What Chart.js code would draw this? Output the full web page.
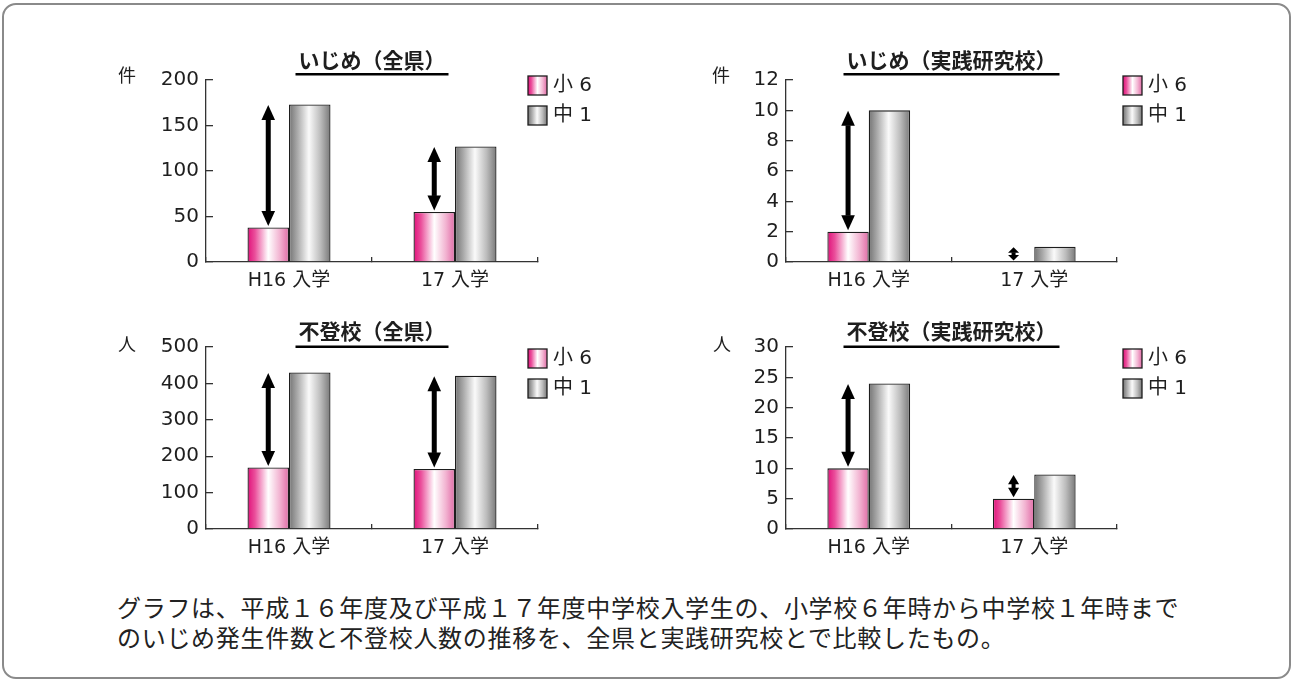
<!DOCTYPE html>
<html lang="ja">
<head>
<meta charset="utf-8">
<title>いじめ・不登校の推移</title>
<script src="https://cdn.jsdelivr.net/npm/chart.js@4.4.1/dist/chart.umd.min.js"></script>
<style>
  html, body { margin: 0; padding: 0; background: #fff; }
  #page { position: relative; width: 1293px; height: 681px; overflow: hidden; background: #fff; }
  #frame { position: absolute; left: 2px; top: 3px; width: 1289px; height: 676px; box-sizing: border-box;
           border: 2.5px solid #8a8a8a; border-radius: 14px; }
  .panel { position: absolute; width: 560px; height: 270px; }
  #caption { position: absolute; left: 117px; top: 592px; color: #222; white-space: nowrap;
             font: 24px 'Noto Sans CJK JP', sans-serif; letter-spacing: 0.7px; line-height: 29.5px; }
</style>
</head>
<body>
<div id="page">
  <div id="frame"></div>
  <canvas id="c0" class="panel" width="560" height="270" style="left:90px;top:30px"></canvas>
  <canvas id="c1" class="panel" width="560" height="270" style="left:670px;top:30px"></canvas>
  <canvas id="c2" class="panel" width="560" height="270" style="left:90px;top:297px"></canvas>
  <canvas id="c3" class="panel" width="560" height="270" style="left:670px;top:297px"></canvas>
  <div id="caption">グラフは、平成１６年度及び平成１７年度中学校入学生の、小学校６年時から中学校１年時まで<br>のいじめ発生件数と不登校人数の推移を、全県と実践研究校とで比較したもの。</div>
</div>
<script>
// ---- data ----
const categories = ['H16 入学', '17 入学'];
const seriesLabels = ['小 6', '中 1'];

const bullyingPrefElem     = [38, 55];
const bullyingPrefJunior   = [173, 127];
const bullyingSchoolElem   = [2, 0];
const bullyingSchoolJunior = [10, 1];
const absencePrefElem      = [169, 165];
const absencePrefJunior    = [430, 421];
const absenceSchoolElem    = [10, 5];
const absenceSchoolJunior  = [24, 9];

const panelTitles = ['いじめ（全県）', 'いじめ（実践研究校）', '不登校（全県）', '不登校（実践研究校）'];
const unitLabels  = ['件', '件', '人', '人'];
const axisMax     = [200, 12, 500, 30];
const axisStep    = [50, 2, 100, 5];

// ---- styling helpers ----
const TICK_FONT = "'DejaVu Sans', 'Noto Sans CJK JP', sans-serif";
const TITLE_FONT = "'Noto Sans CJK JP', sans-serif";
const INK = '#1e1e1e';

function pinkFill(ctx, x0, x1) {
  const g = ctx.createLinearGradient(x0, 0, x1, 0);
  g.addColorStop(0, '#e0107a');
  g.addColorStop(0.18, '#ea4f9b');
  g.addColorStop(0.5, '#ffffff');
  g.addColorStop(0.78, '#f2b3d1');
  g.addColorStop(1, '#e06ba6');
  return g;
}
function grayFill(ctx, x0, x1) {
  const g = ctx.createLinearGradient(x0, 0, x1, 0);
  g.addColorStop(0, '#737373');
  g.addColorStop(0.2, '#a9a9a9');
  g.addColorStop(0.48, '#fafafa');
  g.addColorStop(0.76, '#bcbcbc');
  g.addColorStop(1, '#787878');
  return g;
}
const FILLS = [pinkFill, grayFill];

function drawArrow(ctx, x, yBottom, yTop) {
  const span = yBottom - yTop;
  if (span <= 0) return;
  const head = Math.min(15, span * 0.42);
  const half = span < 30 ? 5.5 : 6.8;
  const shaft = span < 30 ? 4 : 5;
  ctx.save();
  ctx.fillStyle = '#000';
  ctx.fillRect(x - shaft / 2, yTop + head - 0.5, shaft, Math.max(0, span - 2 * head + 1));
  ctx.beginPath();
  ctx.moveTo(x, yTop); ctx.lineTo(x + half, yTop + head); ctx.lineTo(x - half, yTop + head);
  ctx.closePath(); ctx.fill();
  ctx.beginPath();
  ctx.moveTo(x, yBottom); ctx.lineTo(x + half, yBottom - head); ctx.lineTo(x - half, yBottom - head);
  ctx.closePath(); ctx.fill();
  ctx.restore();
}

// Gradient bar fills, difference arrows, titles, unit labels and legend
const panelDecor = {
  id: 'panelDecor',
  beforeDatasetsDraw(chart) {
    chart.data.datasets.forEach((ds, i) => {
      chart.getDatasetMeta(i).data.forEach(el => {
        const w = el.width;
        el.options.backgroundColor = FILLS[i](chart.ctx, el.x - w / 2, el.x + w / 2);
      });
    });
  },
  afterDatasetsDraw(chart) {
    const lower = chart.getDatasetMeta(0).data;
    const upper = chart.getDatasetMeta(1).data;
    lower.forEach((el, k) => {
      drawArrow(chart.ctx, el.x, el.y - 1.5, upper[k].y + 0.5);
    });
  },
  afterDraw(chart, args, o) {
    const ctx = chart.ctx;
    const area = chart.chartArea;
    ctx.save();
    // title with rule underneath
    ctx.font = 'bold 21px ' + TITLE_FONT;
    ctx.fillStyle = INK;
    ctx.textAlign = 'center';
    ctx.textBaseline = 'middle';
    const cx = (area.left + area.right) / 2;
    ctx.fillText(o.title, cx, o.titleY);
    const tw = ctx.measureText(o.title).width;
    ctx.strokeStyle = '#000';
    ctx.lineWidth = 2.5;
    ctx.beginPath();
    ctx.moveTo(cx - tw / 2 - 3, o.ruleY);
    ctx.lineTo(cx + tw / 2 + 3, o.ruleY);
    ctx.stroke();
    // unit label
    ctx.font = '18px ' + TITLE_FONT;
    ctx.fillText(o.unit, o.unitX, o.unitY);
    // legend
    chart.data.datasets.forEach((ds, i) => {
      const y = o.legendY + i * 30;
      ctx.fillStyle = FILLS[i](ctx, o.legendX, o.legendX + 19);
      ctx.fillRect(o.legendX, y, 19, 19);
      ctx.strokeStyle = INK;
      ctx.lineWidth = 1.3;
      ctx.strokeRect(o.legendX, y, 19, 19);
      ctx.fillStyle = INK;
      ctx.font = '20px ' + TICK_FONT;
      ctx.textAlign = 'left';
      ctx.fillText(ds.label, o.legendX + 25, y + 10);
    });
    ctx.restore();
  }
};

const panels = [
  { canvas: 'c0', elem: bullyingPrefElem,   junior: bullyingPrefJunior,   k: 0, padRight: 112,
    titleY: 30, ruleY: 44.3, unitX: 37, unitY: 45, legendX: 438, legendY: 46 },
  { canvas: 'c1', elem: bullyingSchoolElem, junior: bullyingSchoolJunior, k: 1, padRight: 113,
    titleY: 30, ruleY: 44.3, unitX: 51, unitY: 45, legendX: 453, legendY: 46 },
  { canvas: 'c2', elem: absencePrefElem,    junior: absencePrefJunior,    k: 2, padRight: 112,
    titleY: 34, ruleY: 49.7, unitX: 37, unitY: 47, legendX: 438, legendY: 52 },
  { canvas: 'c3', elem: absenceSchoolElem,  junior: absenceSchoolJunior,  k: 3, padRight: 113,
    titleY: 34, ruleY: 49.7, unitX: 52, unitY: 47, legendX: 453, legendY: 52 }
];

panels.forEach(p => {
  new Chart(document.getElementById(p.canvas), {
    type: 'bar',
    data: {
      labels: categories,
      datasets: [
        { label: seriesLabels[0], data: p.elem,
          backgroundColor: () => '#e0107a', borderColor: INK, borderWidth: 1.3 },
        { label: seriesLabels[1], data: p.junior,
          backgroundColor: () => '#9a9a9a', borderColor: INK, borderWidth: 1.3 }
      ]
    },
    options: {
      responsive: false,
      animation: false,
      devicePixelRatio: 1,
      events: [],
      layout: { padding: { top: 50, right: p.padRight, left: 0, bottom: 0 } },
      datasets: { bar: { categoryPercentage: 0.5, barPercentage: 1.0 } },
      plugins: {
        legend: { display: false },
        title: { display: false },
        tooltip: { enabled: false },
        panelDecor: {
          title: panelTitles[p.k], unit: unitLabels[p.k],
          titleY: p.titleY, ruleY: p.ruleY, unitX: p.unitX, unitY: p.unitY,
          legendX: p.legendX, legendY: p.legendY
        }
      },
      scales: {
        x: {
          grid: { offset: true, drawOnChartArea: false, tickLength: -5, color: '#333', lineWidth: 1.3 },
          border: { color: '#333', width: 1.3 },
          ticks: { padding: 13, color: INK, font: { family: TICK_FONT, size: 19 } },
          afterFit(s) { s.height = 38; }
        },
        y: {
          min: 0, max: axisMax[p.k],
          grid: { drawOnChartArea: false, tickLength: -7, color: '#333', lineWidth: 1.3 },
          border: { color: '#333', width: 1.3 },
          ticks: { stepSize: axisStep[p.k], padding: 14, color: INK, font: { family: TICK_FONT, size: 20 } },
          afterFit(s) { s.width = 116; }
        }
      }
    },
    plugins: [panelDecor]
  });
});
</script>
</body>
</html>
